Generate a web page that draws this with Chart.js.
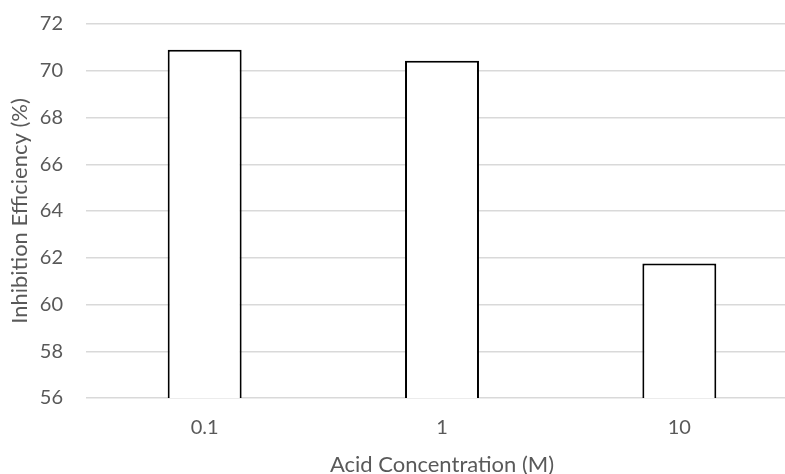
<!DOCTYPE html>
<html>
<head>
<meta charset="utf-8">
<script src="https://cdn.jsdelivr.net/npm/chart.js@4"></script>
<style>
  html, body { margin: 0; padding: 0; background: #fff; overflow: hidden; }
  #wrap { width: 800px; height: 480px; }
</style>
</head>
<body>
<div id="wrap"><canvas id="chart"></canvas></div>
<script>
// valores
const concentracoes = ["0.1", "1", "10"];
const eficiencia = [70.9, 70.43, 61.75];
const yTicks = [56, 58, 60, 62, 64, 66, 68, 70, 72];

const fonte = "Lato, 'Open Sans', sans-serif";
const cinza = "#595959";

const ctx = document.getElementById("chart");
new Chart(ctx, {
  type: "bar",
  data: {
    labels: concentracoes,
    datasets: [
      {
        label: "Inhibition Efficiency (%)",
        data: eficiencia,
        backgroundColor: "#ffffff",
        borderColor: "#000000",
        borderWidth: 2,
        barPercentage: 1,
        categoryPercentage: 0.3116,
      },
    ],
  },
  options: {
    responsive: true,
    maintainAspectRatio: false,
    animation: false,
    layout: { padding: { top: 0, right: 2, bottom: 0, left: 0 } },
    plugins: { legend: { display: false }, tooltip: { enabled: false } },
    scales: {
      x: {
        afterFit: (axis) => {
          axis.height = 82;
        },
        grid: { display: false, drawTicks: false },
        border: { display: false },
        ticks: { color: cinza, font: { family: fonte, size: 20 }, padding: 18 },
        title: {
          display: true,
          text: "Acid Concentration (M)",
          color: cinza,
          font: { family: fonte, size: 22 },
          padding: { top: 0, bottom: 2 },
        },
      },
      y: {
        min: yTicks[0],
        max: yTicks[yTicks.length - 1],
        afterBuildTicks: (axis) => {
          axis.ticks = yTicks.map((v) => ({ value: v }));
        },
        // largura e margem fixas para bater com o original
        afterFit: (axis) => {
          axis.width = 86;
          axis.paddingTop = 24;
        },
        grid: { color: "#d9d9d9", lineWidth: 1.5, drawTicks: false },
        border: { display: false },
        ticks: { color: cinza, font: { family: fonte, size: 20 }, padding: 23 },
        title: {
          display: true,
          text: "Inhibition Efficiency (%)",
          color: cinza,
          font: { family: fonte, size: 22 },
          padding: { top: 7, bottom: 0 },
        },
      },
    },
  },
});
</script>
</body>
</html>
